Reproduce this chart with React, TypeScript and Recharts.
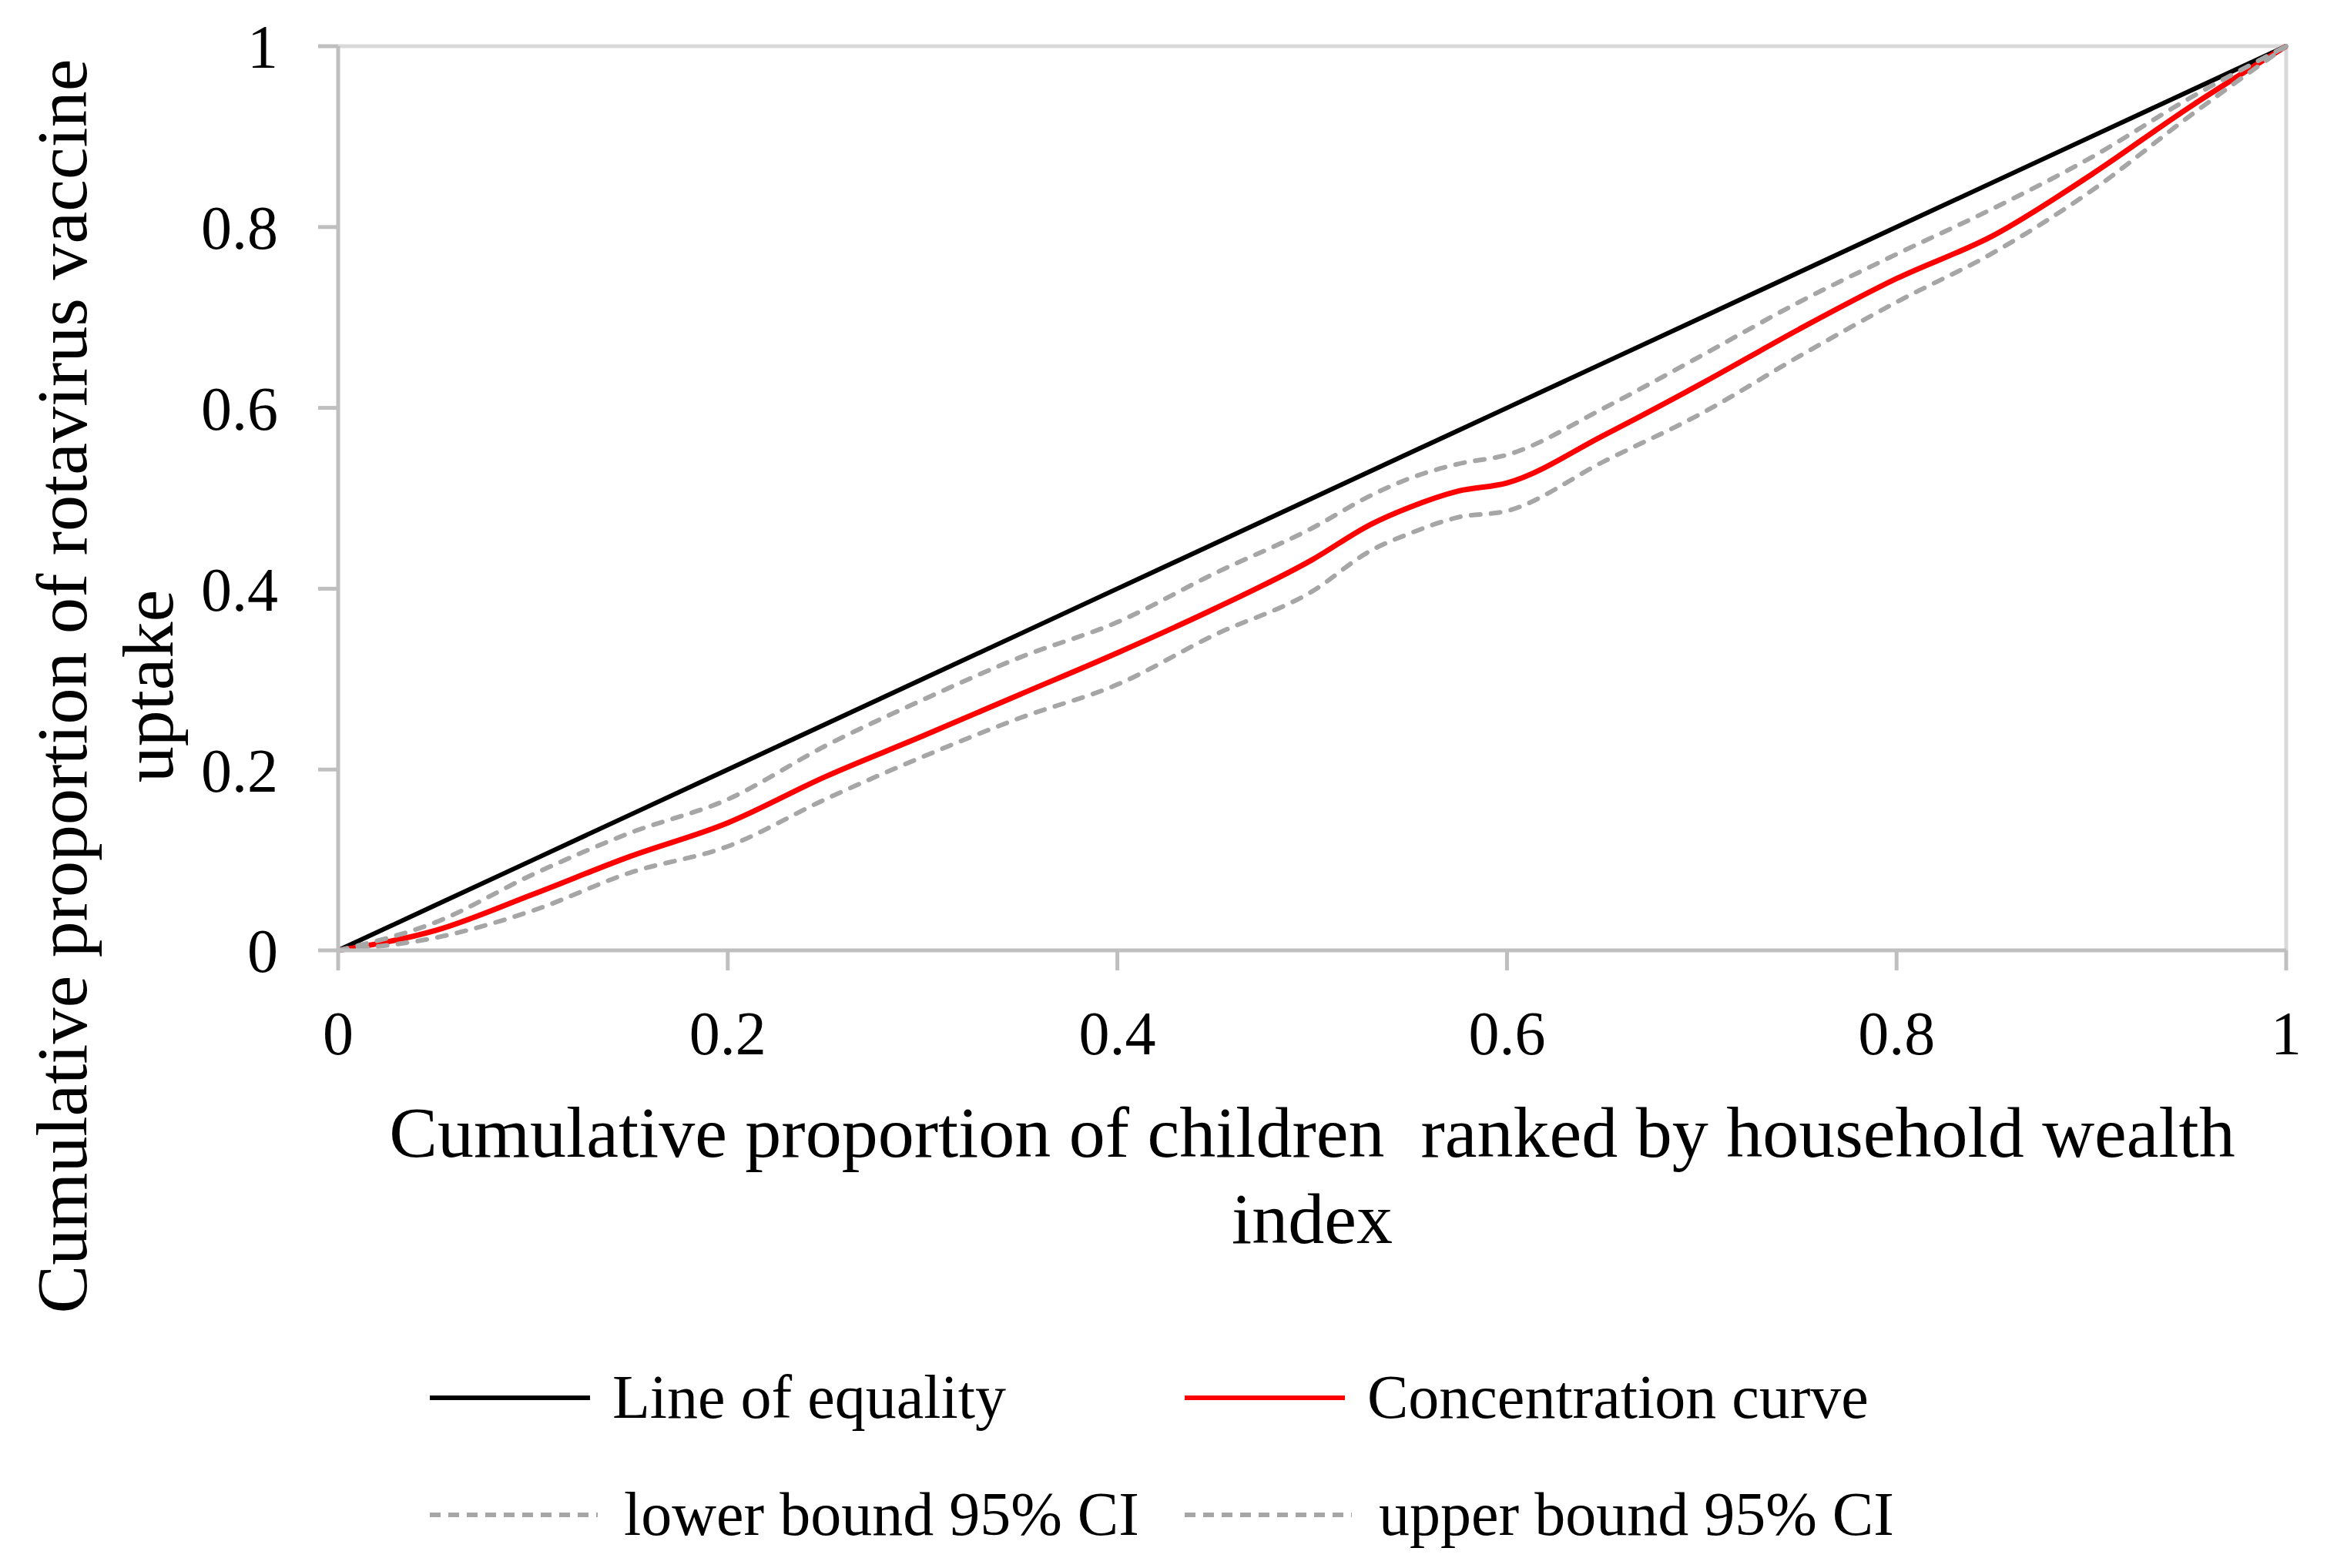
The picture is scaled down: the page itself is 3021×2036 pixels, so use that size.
import React from "react";
import { LineChart, Line, XAxis, YAxis, ReferenceLine, Legend } from "recharts";

// cumulative share of children ranked by household wealth
const shareOfChildren = [
  0, 0.05, 0.1, 0.15, 0.2, 0.25, 0.3, 0.35, 0.4, 0.45, 0.5, 0.53, 0.55, 0.575, 0.6, 0.65, 0.7, 0.75, 0.8,
  0.85, 0.9, 0.95, 1,
];
const lineOfEquality = [
  0, 0.05, 0.1, 0.15, 0.2, 0.25, 0.3, 0.35, 0.4, 0.45, 0.5, 0.53, 0.55, 0.575, 0.6, 0.65, 0.7, 0.75, 0.8,
  0.85, 0.9, 0.95, 1,
];
const concentrationCurve = [
  0, 0.022, 0.062, 0.104, 0.141, 0.192, 0.237, 0.283, 0.329, 0.378, 0.432, 0.471, 0.49, 0.508, 0.517, 0.57,
  0.627, 0.687, 0.743, 0.791, 0.858, 0.932, 1,
];
const lowerBound = [
  0, 0.014, 0.044, 0.086, 0.115, 0.167, 0.214, 0.257, 0.294, 0.349, 0.397, 0.442, 0.461, 0.479, 0.486, 0.541,
  0.594, 0.657, 0.717, 0.772, 0.84, 0.922, 1,
];
const upperBound = [
  0, 0.031, 0.084, 0.13, 0.167, 0.226, 0.277, 0.324, 0.363, 0.417, 0.467, 0.503, 0.522, 0.538, 0.548, 0.6,
  0.658, 0.717, 0.77, 0.821, 0.877, 0.942, 1,
];

const axisTicks = [0, 0.2, 0.4, 0.6, 0.8, 1];
const tickLabels = ["0", "0.2", "0.4", "0.6", "0.8", "1"];

const xTitle = ["Cumulative proportion of children  ranked by household wealth", "index"];
const yTitle = ["Cumulative proportion of rotavirus vaccine", "uptake"];

const legendItems = [
  { name: "Line of equality", color: "#000000", dashed: false },
  { name: "Concentration curve", color: "#ff0000", dashed: false },
  { name: "lower bound 95% CI", color: "#a6a6a6", dashed: true },
  { name: "upper bound 95% CI", color: "#a6a6a6", dashed: true },
];

const data = shareOfChildren.map((x, i) => ({
  x,
  equality: lineOfEquality[i],
  cc: concentrationCurve[i],
  lower: lowerBound[i],
  upper: upperBound[i],
}));

const FONT = "'Liberation Serif', 'Times New Roman', serif";
const AXIS = "#bfbfbf";
const GRAY = "#a6a6a6";
const TITLE_SIZE = 94;

function XTitle({ viewBox }: any) {
  const cx = viewBox.x + viewBox.width / 2;
  return (
    <g>
      <text x={cx} y={viewBox.y + 268} textAnchor="middle" fontSize={TITLE_SIZE} fontFamily={FONT} fill="#000" style={{ whiteSpace: "pre" }}>
        {xTitle[0]}
      </text>
      <text x={cx} y={viewBox.y + 380} textAnchor="middle" fontSize={TITLE_SIZE} fontFamily={FONT} fill="#000">
        {xTitle[1]}
      </text>
    </g>
  );
}

function YTitle({ viewBox }: any) {
  const cy = viewBox.y + viewBox.height / 2 + 244;
  return (
    <g>
      {yTitle.map((t, i) => {
        const x = 112 + i * 112;
        return (
          <text key={i} x={x} y={cy} transform={`rotate(-90, ${x}, ${cy})`} textAnchor="middle" fontSize={TITLE_SIZE} fontFamily={FONT} fill="#000">
            {t}
          </text>
        );
      })}
    </g>
  );
}

function LegendBlock() {
  const pos = [
    { lx: 558, lw: 208, tx: 795, y: 75 },
    { lx: 1538, lw: 208, tx: 1775, y: 75 },
    { lx: 558, lw: 218, tx: 810, y: 227 },
    { lx: 1538, lw: 217, tx: 1790, y: 227 },
  ];
  return (
    <svg width={3021} height={296} style={{ display: "block" }}>
      {legendItems.map((item, i) => {
        const p = pos[i];
        return (
          <g key={item.name}>
            <line
              x1={p.lx}
              x2={p.lx + p.lw}
              y1={p.y}
              y2={p.y}
              stroke={item.color}
              strokeWidth={6}
              strokeDasharray={item.dashed ? "14 10" : undefined}
            />
            <text x={p.tx} y={p.y + 26} fontSize={80} fontFamily={FONT} fill="#000">
              {item.name}
            </text>
          </g>
        );
      })}
    </svg>
  );
}

export default function App() {
  return (
    <div style={{ position: "absolute", left: 0, top: 0, width: 3021, height: 2036, background: "#fff" }}>
      <LineChart width={3021} height={2036} data={data} margin={{ top: 60, right: 53, bottom: 0, left: 0 }}>
        <XAxis
          dataKey="x"
          type="number"
          domain={[0, 1]}
          ticks={axisTicks}
          tickFormatter={(v: number, i: number) => tickLabels[i]}
          height={802}
          tickSize={26}
          tickMargin={52}
          axisLine={{ stroke: AXIS, strokeWidth: 5 }}
          tickLine={{ stroke: AXIS, strokeWidth: 5 }}
          tick={{ fontSize: 80, fill: "#000", fontFamily: FONT }}
          interval={0}
          label={<XTitle />}
        />
        <YAxis
          type="number"
          domain={[0, 1]}
          ticks={axisTicks}
          tickFormatter={(v: number, i: number) => tickLabels[i]}
          width={439}
          tickSize={26}
          tickMargin={52}
          axisLine={{ stroke: AXIS, strokeWidth: 5 }}
          tickLine={{ stroke: AXIS, strokeWidth: 5 }}
          tick={{ fontSize: 80, fill: "#000", fontFamily: FONT }}
          interval={0}
          label={<YTitle />}
        />
        <ReferenceLine y={1} stroke="#d9d9d9" strokeWidth={5} />
        <ReferenceLine x={1} stroke="#d9d9d9" strokeWidth={5} />
        <Line type="linear" dataKey="equality" stroke="#000" strokeWidth={6} dot={false} isAnimationActive={false} />
        <Line type="monotone" dataKey="cc" stroke="#ff0000" strokeWidth={7} dot={false} isAnimationActive={false} />
        <Line
          type="monotone"
          dataKey="lower"
          stroke={GRAY}
          strokeWidth={6}
          strokeDasharray="12 14"
          strokeLinecap="round"
          dot={false}
          isAnimationActive={false}
        />
        <Line
          type="monotone"
          dataKey="upper"
          stroke={GRAY}
          strokeWidth={6}
          strokeDasharray="12 14"
          strokeLinecap="round"
          dot={false}
          isAnimationActive={false}
        />
        <Legend
          layout="horizontal"
          verticalAlign="middle"
          align="center"
          wrapperStyle={{ top: 1740, left: 0, width: 3021, height: 296 }}
          content={() => <LegendBlock />}
        />
      </LineChart>
    </div>
  );
}
